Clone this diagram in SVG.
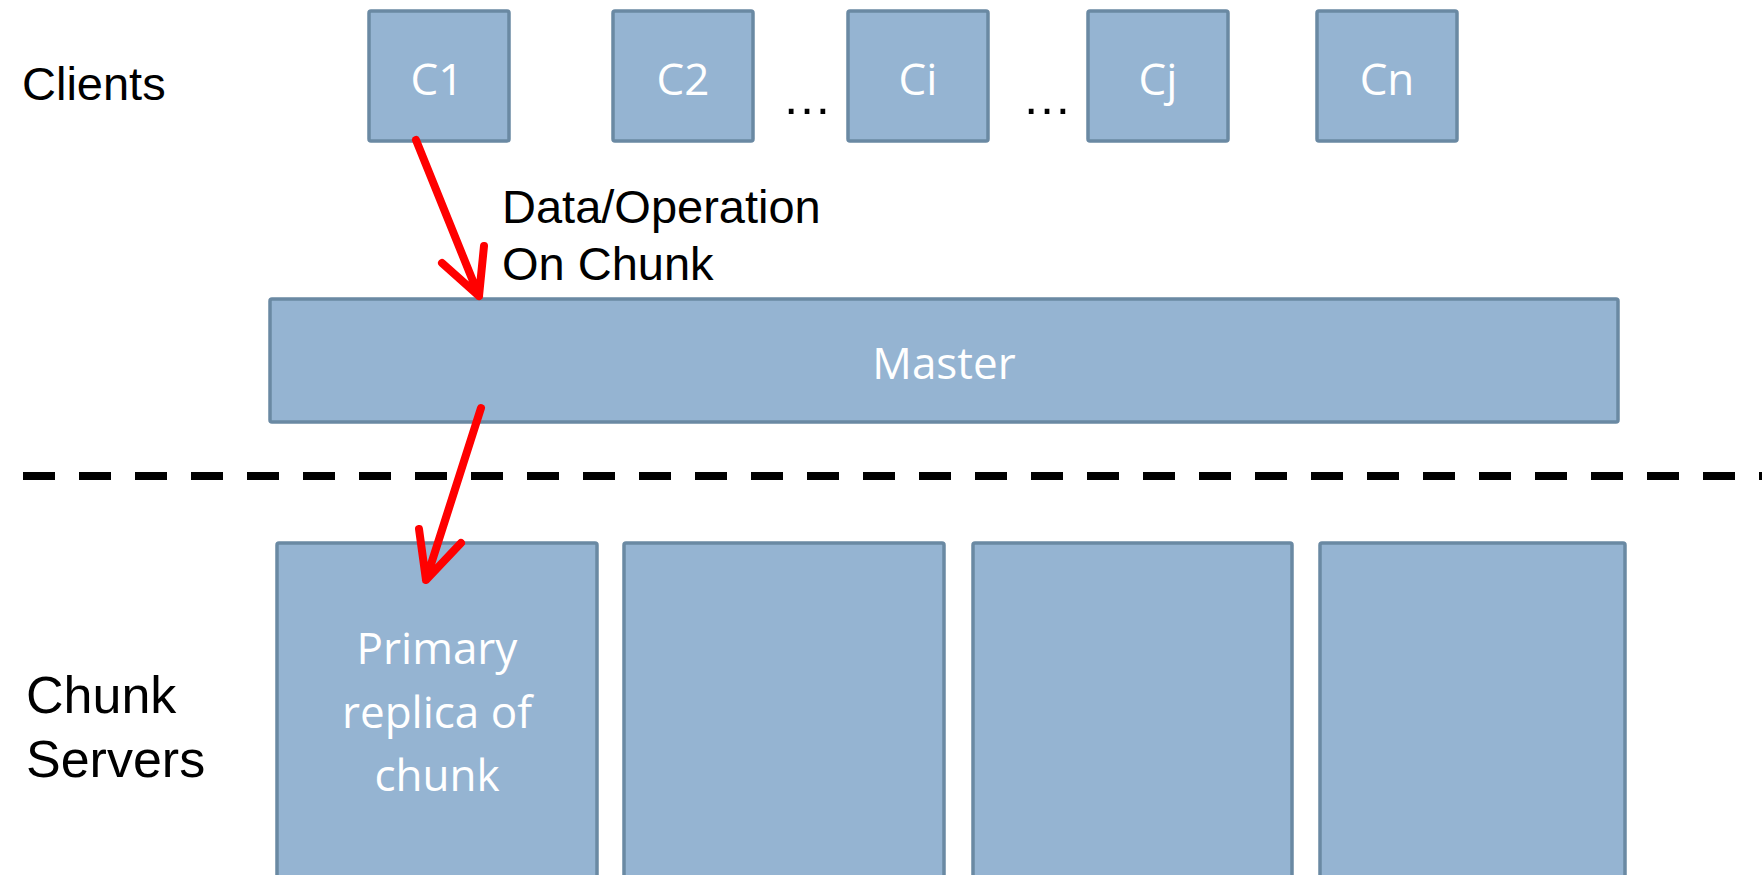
<svg xmlns="http://www.w3.org/2000/svg" width="1762" height="875" viewBox="0 0 1762 875">
<style>
.box{fill:#95B4D2;stroke:#6A89A3;stroke-width:3.5}
.bt{font-family:"Open Sans","Liberation Sans",sans-serif;font-size:44px;fill:#ffffff;text-anchor:middle}
.lb{font-family:"Liberation Sans",Arial,sans-serif;fill:#000000}
.arr{fill:none;stroke:#FF0000;stroke-width:8;stroke-linecap:round;stroke-linejoin:round}
</style>
<rect width="1762" height="875" fill="#ffffff"/>
<text class="lb" x="22" y="100" font-size="47">Clients</text>
<text class="lb" x="26" y="713" font-size="52">Chunk</text>
<text class="lb" x="26" y="777" font-size="52">Servers</text>
<text class="lb" x="502" y="223" font-size="47">Data/Operation</text>
<text class="lb" x="502" y="280" font-size="47">On Chunk</text>
<text class="lb" x="782" y="114" font-size="50">…</text>
<text class="lb" x="1022" y="114" font-size="50">…</text>
<g id="c1"><rect class="box" x="369" y="11" width="140" height="130" rx="2"/><text class="bt" x="437" y="95">C1</text></g>
<g id="c2"><rect class="box" x="613" y="11" width="140" height="130" rx="2"/><text class="bt" x="683" y="95">C2</text></g>
<g id="ci"><rect class="box" x="848" y="11" width="140" height="130" rx="2"/><text class="bt" x="918" y="95">Ci</text></g>
<g id="cj"><rect class="box" x="1088" y="11" width="140" height="130" rx="2"/><text class="bt" x="1158" y="95">Cj</text></g>
<g id="cn"><rect class="box" x="1317" y="11" width="140" height="130" rx="2"/><text class="bt" x="1387" y="95">Cn</text></g>
<g id="master"><rect class="box" x="270" y="299" width="1348" height="123" rx="2"/><text class="bt" x="944" y="379">Master</text></g>
<g id="divider"><line x1="23" y1="476" x2="1762" y2="476" stroke="#000000" stroke-width="8" stroke-dasharray="32 24"/></g>
<g id="s1"><rect class="box" x="277" y="543" width="320" height="340" rx="2"/>
<text class="bt" x="437" y="664">Primary</text>
<text class="bt" x="437" y="728">replica of</text>
<text class="bt" x="437" y="791">chunk</text></g>
<g id="s2"><rect class="box" x="624" y="543" width="320" height="340" rx="2"/></g>
<g id="s3"><rect class="box" x="973" y="543" width="319" height="340" rx="2"/></g>
<g id="s4"><rect class="box" x="1320" y="543" width="305" height="340" rx="2"/></g>
<g id="connectors">
<path class="arr" d="M416,140 L479,296 M442,263 L479,296 L484,246"/>
<path class="arr" d="M481,408 L426,580 M419,529 L426,580 L461,543"/>
</g>
</svg>
